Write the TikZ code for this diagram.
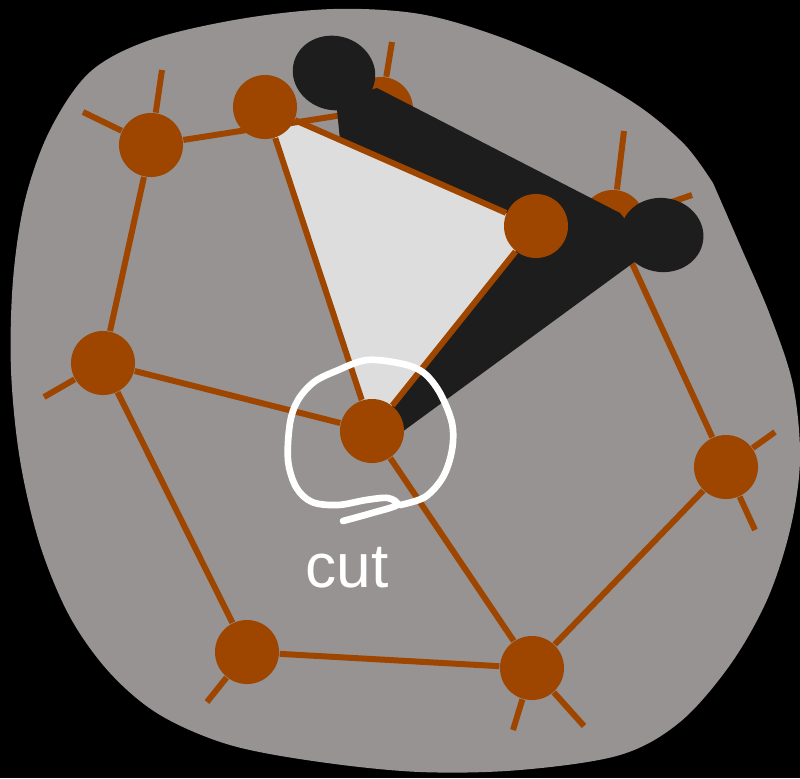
\documentclass[tikz,border=0pt]{standalone}
\usepackage{fontspec}
\newfontfamily\cutfont{Liberation Sans}
\usetikzlibrary{shapes.geometric}
\definecolor{blob}{HTML}{969392}
\definecolor{rust}{HTML}{9E4600}
\definecolor{ink}{HTML}{1D1D1D}
\definecolor{pale}{HTML}{DDDDDD}
\pgfdeclarelayer{back}
\pgfdeclarelayer{under}
\pgfdeclarelayer{hidden}
\pgfdeclarelayer{band}
\pgfsetlayers{back,under,hidden,band,main}

\begin{document}
\begin{tikzpicture}[x=0.01cm, y=-0.01cm,
  atom/.style={circle, fill=rust, minimum size=0.64cm, inner sep=0pt},
  bond/.style={draw=rust, line width=1.7pt},
  blot/.style={ellipse, fill=ink, minimum width=0.83cm, minimum height=0.74cm, inner sep=0pt},
  hand/.style={draw=white, line width=1.9pt, line cap=round, line join=round}]
  \useasboundingbox (0,0) rectangle (800,778);
  \node[atom] (A) at (151,145) {};
  \node[atom] (B) at (265,107) {};
  \node[atom] (D) at (536,226) {};
  \node[atom] (F) at (103,363) {};
  \node[atom] (G) at (372,431) {};
  \node[atom] (H) at (726,467) {};
  \node[atom] (I) at (247,652) {};
  \node[atom] (J) at (532,668) {};
  \coordinate (a1) at (83,112);
  \coordinate (a2) at (162,70);
  \coordinate (c1) at (392,42);
  \coordinate (e1) at (624,131);
  \coordinate (e2) at (692,195);
  \coordinate (f1) at (44,397);
  \coordinate (h1) at (775,432);
  \coordinate (h2) at (755,530);
  \coordinate (i1) at (207,702);
  \coordinate (j1) at (513,730);
  \coordinate (j2) at (584,726);
  \begin{pgfonlayer}{back}
    \fill[black] (0,0) rectangle (800,778);
    \fill[blob] plot[smooth, tension=0.55] coordinates {
      (713,183) (740,245) (770,315) (793,385) (800,460) (790,530) (767,600)
      (730,665) (680,722) (620,755) (520,770) (420,772) (320,762) (230,745)
      (160,715) (110,673) (70,617) (40,545) (20,460) (11,370) (13,280)
      (25,200) (50,130) (90,72) (150,40) (240,19) (333,9) (420,14) (500,37)
      (580,72) (640,107) (685,145) (713,183)} -- cycle;
    \fill[pale] (B.center) -- (D.center) -- (G.center) -- cycle;
  \end{pgfonlayer}
  \begin{pgfonlayer}{hidden}
    \node[atom] (C) at (381,109) {};
    \node[atom] (E) at (613,222) {};
  \end{pgfonlayer}
  \begin{pgfonlayer}{under}
    \draw[bond] (A) -- (C);
    \draw[bond] (A) -- (F);
    \draw[bond] (F) -- (G);
    \draw[bond] (F) -- (I);
    \draw[bond] (I) -- (J);
    \draw[bond] (G) -- (J);
    \draw[bond] (J) -- (H);
    \draw[bond] (H) -- (E);
    \draw[bond] (A) -- (a1);
    \draw[bond] (A) -- (a2);
    \draw[bond] (C) -- (c1);
    \draw[bond] (E) -- (e1);
    \draw[bond] (E) -- (e2);
    \draw[bond] (F) -- (f1);
    \draw[bond] (H) -- (h1);
    \draw[bond] (H) -- (h2);
    \draw[bond] (I) -- (i1);
    \draw[bond] (J) -- (j1);
    \draw[bond] (J) -- (j2);
  \end{pgfonlayer}
  \begin{pgfonlayer}{band}
    \fill[ink] (336,100) -- (377,88) -- (620,213) -- (650,250) -- (633,263)
      -- (402,432) -- (G.center) -- (D.center) -- (340,140) -- cycle;
    \node[blot, rotate=-15] (tcap) at (334,73) {};
    \node[blot, rotate=-8] (rcap) at (662,235) {};
  \end{pgfonlayer}
  \draw[bond] (B) -- (D);
  \draw[bond] (D) -- (G);
  \draw[bond] (B) -- (G);
  \draw[hand] plot[smooth, tension=0.55] coordinates {
    (343,521) (372,513) (397,505) (388,498) (366,500) (338,505) (312,502)
    (296,487) (288,460) (290,423) (298,400) (314,382) (336,371) (367,360)
    (403,364) (424,373) (440,393) (452,423) (452,450) (443,477) (425,497)
    (400,505)};
  \node[font=\cutfont\fontsize{17.7}{20}\selectfont, text=white, anchor=base] (cut) at (347,587) {cut};
\end{tikzpicture}
\end{document}
